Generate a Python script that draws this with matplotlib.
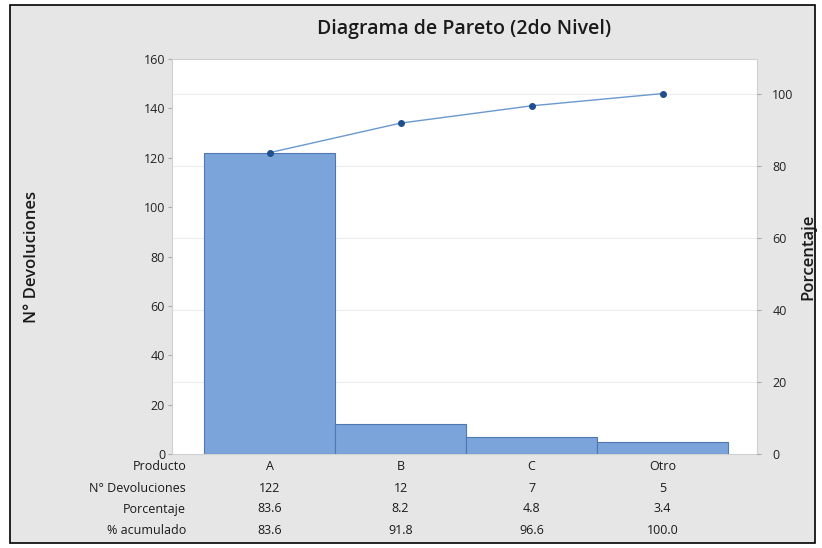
import matplotlib
matplotlib.use("Agg")
import matplotlib.pyplot as plt
import numpy as np

productos = ['A', 'B', 'C', 'Otro']
devoluciones = [122, 12, 7, 5]
porcentaje = [83.6, 8.2, 4.8, 3.4]
acumulado = [83.6, 91.8, 96.6, 100.0]
total = 146

plt.rcParams['font.family'] = ['Open Sans', 'DejaVu Sans']

fig = plt.figure(figsize=(8.22, 5.48), dpi=100)
fig.patch.set_facecolor('white')

# gray panel with black frame
fig.patches.append(plt.Rectangle((10/822, 1-543/548), 805/822, 538/548, transform=fig.transFigure,
                                 facecolor='#e6e6e6', edgecolor='black', lw=1.2, zorder=-5))

ax = fig.add_axes([172/822, 1-454/548, 585/822, 395/548])
ax.set_facecolor('white')
x = np.arange(len(productos))
# faint gridlines at the percent ticks, under the bars
for t in range(20, 101, 20):
    ax.axhline(t * total / 100, color='#ececec', lw=0.8, zorder=1)
ax.bar(x, devoluciones, width=1.0, color='#7ba4da', edgecolor='#4f78b0', lw=0.8, zorder=2)
ax.set_xlim(-0.744, 3.72)
ax.set_ylim(0, 160)
ax.set_yticks(range(0, 161, 20))
ax.set_xticks([])
for s in ax.spines.values():
    s.set_color('#d0d0d0')
    s.set_linewidth(0.8)
ax.tick_params(axis='y', colors='#aaaaaa', labelcolor='#222222', labelsize=9, length=3, pad=2)
ax.set_ylabel('N° Devoluciones', fontsize=12, color='#1a1a1a', labelpad=0, fontweight='semibold')
ax.yaxis.set_label_coords(-0.225, 0.5)

ax2 = ax.twinx()
ax2.set_ylim(0, 160 / total * 100)
ax2.set_yticks(range(0, 101, 20))
ax2.plot(x, acumulado, color='#6a98cf', lw=1.0, marker='o', markersize=4,
         markerfacecolor='#1f4f8f', markeredgecolor='#1f4f8f', zorder=3)
for s in ax2.spines.values():
    s.set_visible(False)
ax2.tick_params(axis='y', colors='#aaaaaa', labelcolor='#222222', labelsize=9, length=3, pad=8)
ax2.set_ylabel('Porcentaje', fontsize=12, color='#1a1a1a', rotation=90, fontweight='semibold')
ax2.yaxis.set_label_coords(1.075, 0.5)

ax.set_title('Diagrama de Pareto (2do Nivel)', fontsize=14, color='#1a1a1a', pad=18,
             fontweight='semibold')

# table under the chart
filas = [('Producto', productos),
         ('N° Devoluciones', [str(v) for v in devoluciones]),
         ('Porcentaje', [f'{v:.1f}' for v in porcentaje]),
         ('% acumulado', [f'{v:.1f}' for v in acumulado])]
for i, (nombre, vals) in enumerate(filas):
    yy = 1 - (467 + i * 21) / 548
    fig.text(186/822, yy, nombre, ha='right', va='center', fontsize=9, color='#1a1a1a')
    for xi, v in zip(x, vals):
        xf = ax.transData.transform((xi, 0))[0] / fig.bbox.width
        fig.text(xf, yy, v, ha='center', va='center', fontsize=9, color='#1a1a1a')

fig.savefig('out.png', dpi=100)
